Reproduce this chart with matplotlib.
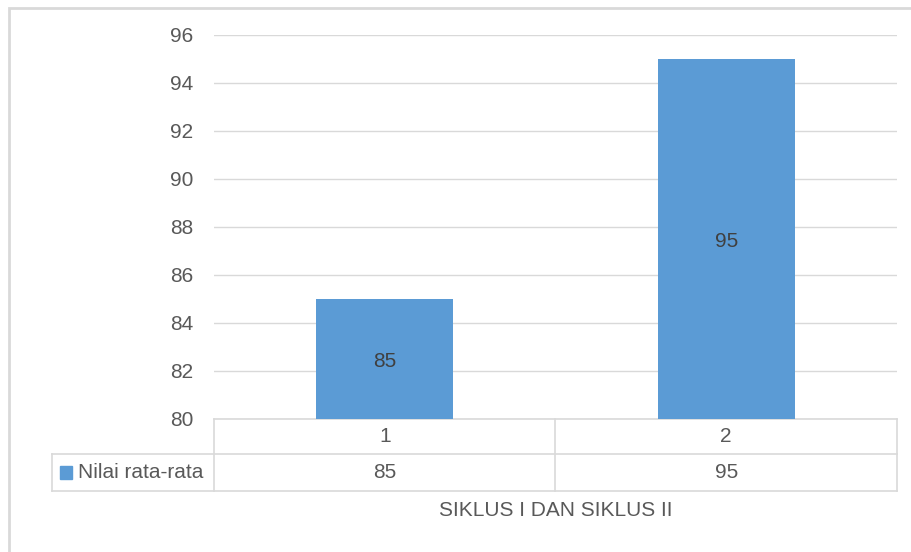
import matplotlib.pyplot as plt
from matplotlib.patches import Rectangle

categories = ["1", "2"]
values = [85, 95]
series_name = "Nilai rata-rata"
axis_title = "SIKLUS I DAN SIKLUS II"
y_ticks = [80, 82, 84, 86, 88, 90, 92, 94, 96]

W, H = 912, 552
bar_color = "#5B9BD5"
grid_color = "#D9D9D9"
text_color = "#595959"
fs = 15

plt.rcParams['font.family'] = ['Liberation Sans', 'DejaVu Sans']

fig = plt.figure(figsize=(W / 100, H / 100), dpi=100)

# outer chart border (right/bottom run off the image)
fig.patches.append(Rectangle((9 / W, -0.1), 1.2, 1 - 8 / H + 0.1, transform=fig.transFigure,
                             fill=False, edgecolor=grid_color, linewidth=2))

# plot area in pixels
left, right, top, bottom = 214, 897, 35, 419
ax = fig.add_axes([left / W, 1 - bottom / H, (right - left) / W, (bottom - top) / H])

x = list(range(len(categories)))
bars = ax.bar(x, [v - y_ticks[0] for v in values], bottom=y_ticks[0], width=0.4,
              color=bar_color, zorder=3)
for xi, v in zip(x, values):
    ax.text(xi, (y_ticks[0] + v) / 2 - 0.1, str(v), ha="center", va="center",
            fontsize=fs, color="#404040", zorder=4)

ax.set_xlim(-0.5, len(categories) - 0.5)
ax.set_ylim(y_ticks[0], y_ticks[-1])
ax.set_yticks(y_ticks)
ax.set_xticks([])
ax.tick_params(axis="y", length=0, pad=15, labelsize=fs, labelcolor=text_color)
ax.yaxis.grid(True, color=grid_color, linewidth=1, zorder=0)
for s in ax.spines.values():
    s.set_visible(False)

# data table below the plot area
px_col = (right - left) / len(categories)
row1 = -(454 - bottom) / (bottom - top)
row2 = -(491 - bottom) / (bottom - top)
leg_x = -0.5 - (left - 52) / px_col
tr = ax.get_xaxis_transform()
lk = dict(color=grid_color, linewidth=1.2, transform=tr, clip_on=False)
xe = -0.5 + len(categories)
ax.plot([-0.5, xe], [0, 0], **lk)
ax.plot([leg_x, xe], [row1, row1], **lk)
ax.plot([leg_x, xe], [row2, row2], **lk)
ax.plot([leg_x, leg_x], [row1, row2], **lk)
for e in range(len(categories) + 1):
    ax.plot([e - 0.5, e - 0.5], [0, row2], **lk)
for xi, c, v in zip(x, categories, values):
    ax.text(xi, row1 / 2, c, ha="center", va="center", fontsize=fs, color=text_color,
            transform=tr)
    ax.text(xi, (row1 + row2) / 2, str(v), ha="center", va="center", fontsize=fs,
            color=text_color, transform=tr)

ymid = 1 - ((454 + 491) / 2) / H
fig.patches.append(Rectangle((60 / W, ymid - 6.5 / H), 12.5 / W, 13 / H,
                             transform=fig.transFigure, color=bar_color))
fig.text(78 / W, ymid, series_name, ha="left", va="center", fontsize=fs, color=text_color)

fig.text(((left + right) / 2) / W, 1 - 510 / H, axis_title, ha="center", va="center",
         fontsize=fs, color=text_color)

fig.savefig("out.png", dpi=100)
